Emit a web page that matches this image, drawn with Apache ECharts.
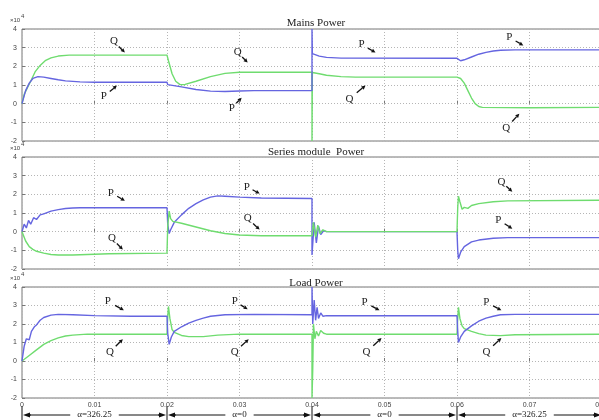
<!DOCTYPE html>
<html>
<head>
<meta charset="utf-8">
<script src="https://cdn.jsdelivr.net/npm/echarts@6/dist/echarts.min.js"></script>
<style>
  html, body { margin: 0; padding: 0; background: #fff; }
  #chart { width: 599px; height: 420px; }
</style>
</head>
<body>
<div id="chart"></div>
<script>
// panel titles
const titles = ['Mains Power', 'Series module  Power', 'Load Power'];

// time (s), value (x10^4)
const mainsP = [[0,0],[0.0005,0.7],[0.001,1.1],[0.0015,1.35],[0.0022,1.45],[0.003,1.42],[0.004,1.35],[0.005,1.28],[0.006,1.22],[0.008,1.17],[0.01,1.15],[0.02,1.15],
  [0.0201,1.02],[0.022,0.9],[0.024,0.76],[0.026,0.67],[0.028,0.65],[0.03,0.68],[0.032,0.7],[0.04,0.7],[0.04,4.0],[0.04005,2.68],[0.041,2.55],[0.042,2.48],[0.044,2.44],
  [0.06,2.43],[0.0605,2.3],[0.061,2.35],[0.062,2.5],[0.063,2.65],[0.064,2.75],[0.065,2.82],[0.066,2.86],[0.068,2.88],[0.08,2.88]];
const mainsQ = [[0,0],[0.0003,0.5],[0.0008,0.9],[0.0012,1.2],[0.0018,1.7],[0.0025,2.05],[0.0032,2.3],[0.004,2.45],[0.005,2.55],[0.0065,2.6],[0.02,2.6],
  [0.0202,2.3],[0.0207,1.6],[0.0212,1.2],[0.0218,1.02],[0.0225,1.03],[0.024,1.2],[0.026,1.45],[0.028,1.62],[0.03,1.68],[0.04,1.68],[0.04,-2],[0.04005,1.67],
  [0.041,1.6],[0.042,1.52],[0.044,1.45],[0.046,1.42],[0.06,1.42],[0.0605,1.35],[0.061,1.1],[0.0615,0.7],[0.062,0.3],[0.0625,0.0],[0.063,-0.15],[0.0635,-0.2],
  [0.07,-0.22],[0.08,-0.2]];

const seriesP = [[0,0],[0.0003,0.4],[0.0006,0.2],[0.0009,0.6],[0.0012,0.4],[0.0016,0.75],[0.002,0.65],[0.0025,0.9],[0.003,0.95],[0.004,1.1],[0.005,1.18],
  [0.006,1.24],[0.007,1.27],[0.008,1.28],[0.02,1.28],[0.0201,0.4],[0.0203,-0.1],[0.0205,0.1],[0.021,0.5],[0.022,0.9],[0.023,1.25],[0.024,1.5],[0.025,1.7],
  [0.026,1.85],[0.027,1.92],[0.028,1.9],[0.03,1.85],[0.033,1.8],[0.04,1.78],[0.04,-1.25],[0.0403,0.5],[0.0406,-0.6],[0.0409,0.3],[0.0412,-0.15],
  [0.0416,0.05],[0.042,0],[0.06,0],[0.0601,-1.0],[0.0602,-1.45],[0.0605,-1.1],[0.061,-0.8],[0.062,-0.55],[0.063,-0.45],[0.065,-0.35],
  [0.067,-0.32],[0.08,-0.32]];
const seriesQ = [[0,0],[0.0005,-0.5],[0.001,-0.8],[0.0015,-0.95],[0.002,-1.05],[0.003,-1.15],[0.004,-1.22],[0.005,-1.25],[0.007,-1.25],[0.009,-1.22],
  [0.012,-1.18],[0.02,-1.15],[0.0201,0.3],[0.0203,1.1],[0.0205,0.7],[0.0208,0.55],[0.021,0.6],[0.022,0.45],[0.024,0.25],[0.026,0.05],[0.028,-0.1],[0.03,-0.18],
  [0.033,-0.22],[0.04,-0.22],[0.0402,0.5],[0.0405,-0.3],[0.0408,0.35],[0.0411,-0.1],[0.0415,0.1],[0.042,0],[0.06,0],[0.0601,1.3],
  [0.0602,1.9],[0.0604,1.6],[0.0607,1.2],[0.061,1.3],[0.0615,1.25],[0.062,1.4],[0.063,1.5],[0.065,1.6],[0.067,1.65],[0.08,1.68]];

const loadP = [[0,0],[0.0003,0.8],[0.0006,1.2],[0.001,1.15],[0.0013,1.6],[0.0017,1.85],[0.002,1.95],[0.0025,2.2],[0.003,2.35],[0.004,2.48],[0.005,2.52],
  [0.007,2.5],[0.01,2.45],[0.015,2.42],[0.02,2.42],[0.0201,1.5],[0.0203,0.9],[0.0206,1.3],[0.021,1.6],[0.022,1.85],[0.023,2.05],[0.024,2.2],[0.025,2.32],
  [0.026,2.42],[0.028,2.5],[0.032,2.52],[0.04,2.5],[0.04,4.0],[0.0401,2.0],[0.0403,3.3],[0.0405,2.2],[0.0407,2.9],[0.0409,2.3],[0.0412,2.6],[0.0415,2.42],
  [0.042,2.45],[0.06,2.45],[0.0601,1.6],[0.0602,1.0],[0.0605,1.3],[0.061,1.6],[0.062,1.9],[0.063,2.15],[0.064,2.32],[0.065,2.42],[0.066,2.5],[0.068,2.52],
  [0.08,2.52]];
const loadQ = [[0,0],[0.0005,0.15],[0.001,0.3],[0.002,0.6],[0.003,0.9],[0.004,1.1],[0.005,1.25],[0.006,1.35],[0.007,1.4],[0.009,1.45],[0.02,1.45],
  [0.0201,2.4],[0.0202,2.95],[0.0204,2.3],[0.0207,1.7],[0.021,1.55],[0.022,1.38],[0.023,1.32],[0.025,1.32],[0.027,1.4],[0.03,1.45],[0.04,1.45],[0.04,-2],
  [0.0401,-0.5],[0.0402,2.0],[0.0404,1.2],[0.0406,1.6],[0.0409,1.35],[0.0412,1.65],[0.0416,1.5],[0.042,1.45],[0.06,1.45],[0.0601,2.3],[0.0602,2.9],
  [0.0604,2.3],[0.0607,1.9],[0.061,1.75],[0.062,1.6],[0.063,1.48],[0.064,1.4],[0.066,1.37],[0.068,1.42],[0.08,1.45]];

// P / Q callouts: panel, label [t, v], arrow tip [t, v]
const callouts = [
  [0, 'Q', [0.01267, 3.33], [0.01419, 2.74]], [0, 'P', [0.0113, 0.38], [0.01309, 0.97]],
  [0, 'Q', [0.02975, 2.74], [0.03113, 2.2]],  [0, 'P', [0.02893, -0.22], [0.0303, 0.32]],
  [0, 'P', [0.04683, 3.17], [0.04876, 2.74]], [0, 'Q', [0.04518, 0.27], [0.04738, 0.97]],
  [0, 'P', [0.06722, 3.55], [0.06915, 3.12]], [0, 'Q', [0.0668, -1.29], [0.0686, -0.54]],
  [1, 'P', [0.01226, 2.09], [0.01419, 1.66]], [1, 'Q', [0.0124, -0.37], [0.01391, -0.96]],
  [1, 'P', [0.031, 2.41], [0.03278, 2.04]],   [1, 'Q', [0.03113, 0.7], [0.03278, 0.11]],
  [1, 'Q', [0.06612, 2.68], [0.06763, 2.14]], [1, 'P', [0.0657, 0.64], [0.06763, 0.16]],
  [2, 'P', [0.01185, 3.23], [0.01405, 2.74]], [2, 'Q', [0.01212, 0.48], [0.01391, 1.18]],
  [2, 'P', [0.02934, 3.23], [0.03113, 2.8]],  [2, 'Q', [0.02934, 0.48], [0.03127, 1.18]],
  [2, 'P', [0.04725, 3.17], [0.04931, 2.74]], [2, 'Q', [0.04752, 0.48], [0.04959, 1.24]],
  [2, 'P', [0.06405, 3.17], [0.06612, 2.74]], [2, 'Q', [0.06405, 0.48], [0.06612, 1.24]]
];

// firing angle intervals under the time axis
const alphaBreaks = [0, 0.02, 0.04, 0.06, 0.08];
const alphaLabels = ['α=326.25', 'α=0', 'α=0', 'α=326.25'];

const colorP = '#6565e0';
const colorQ = '#6fdc6f';
const serif = 'Liberation Serif';

const grids = [
  { left: 22, width: 580, top: 29, height: 112 },
  { left: 22, width: 580, top: 157, height: 112 },
  { left: 22, width: 580, top: 287, height: 111 }
].map(g => Object.assign(g, { show: true, borderColor: '#777', borderWidth: 1, outerBoundsMode: 'none', containLabel: false }));

const xAxes = grids.map((g, i) => ({
  type: 'value', gridIndex: i, min: 0, max: 0.08, interval: 0.01,
  axisLine: { show: false },
  axisTick: { show: true, inside: true, length: 3, lineStyle: { color: '#777' } },
  axisLabel: {
    show: i === 2, fontSize: 7, color: '#444', fontFamily: 'Liberation Sans', margin: 4,
    formatter: v => (v === 0 ? '0' : v.toFixed(2))
  },
  splitLine: { show: true, lineStyle: { color: '#b5b5b5', type: [1, 2], width: 1 } }
}));

const yAxes = grids.map((g, i) => ({
  type: 'value', gridIndex: i, min: -2, max: 4, interval: 1,
  axisLine: { show: false },
  axisTick: { show: true, inside: true, length: 3, lineStyle: { color: '#777' } },
  axisLabel: { fontSize: 7, color: '#444', fontFamily: 'Liberation Sans', margin: 5 },
  splitLine: { show: true, lineStyle: { color: '#b5b5b5', type: [1, 2], width: 1 } }
}));

// drawing order per panel (last one on top)
const panels = [[mainsQ, mainsP], [seriesP, seriesQ], [loadQ, loadP]];
const panelColors = [[colorQ, colorP], [colorP, colorQ], [colorQ, colorP]];
const series = [];
panels.forEach((pair, i) => {
  pair.forEach((d, k) => {
    const c = panelColors[i][k];
    series.push({ type: 'line', xAxisIndex: i, yAxisIndex: i, data: d, showSymbol: false,
      lineStyle: { color: c, width: 1.4 }, itemStyle: { color: c } });
  });
});

const chart = echarts.init(document.getElementById('chart'));
chart.setOption({
  animation: false,
  backgroundColor: '#fff',
  title: titles.map((t, i) => ({
    text: t, left: 311, textAlign: 'center', top: [13, 142, 273][i],
    textStyle: { fontFamily: serif, fontSize: 11, fontWeight: 'normal', color: '#222' }
  })),
  grid: grids,
  xAxis: xAxes,
  yAxis: yAxes,
  series: series
});

// arrow helper: shaft + filled head at (x2, y2)
function arrow(x1, y1, x2, y2, len, half, w) {
  const dx = x2 - x1, dy = y2 - y1, d = Math.hypot(dx, dy);
  const ux = dx / d, uy = dy / d;
  const bx = x2 - ux * len, by = y2 - uy * len;
  return [
    { type: 'line', shape: { x1: x1, y1: y1, x2: bx, y2: by }, style: { stroke: '#111', lineWidth: w }, silent: true },
    { type: 'polygon', shape: { points: [[x2, y2], [bx - uy * half, by + ux * half], [bx + uy * half, by - ux * half]] },
      style: { fill: '#111' }, silent: true }
  ];
}

const graphic = [];

// x10^4 exponent markers
grids.forEach(g => {
  graphic.push({ type: 'text', x: 10, y: g.top - 9, style: { text: '×10', fontSize: 6, fontFamily: 'Liberation Sans', fill: '#444', verticalAlign: 'middle' } });
  graphic.push({ type: 'text', x: 21, y: g.top - 13, style: { text: '4', fontSize: 6, fontFamily: 'Liberation Sans', fill: '#444', verticalAlign: 'middle' } });
});

callouts.forEach(([gi, txt, lab, tip]) => {
  const a = chart.convertToPixel({ gridIndex: gi }, lab);
  const b = chart.convertToPixel({ gridIndex: gi }, tip);
  graphic.push({ type: 'text', x: a[0], y: a[1], style: { text: txt, fontFamily: serif, fontSize: 11, fill: '#222', align: 'center', verticalAlign: 'middle' } });
  const sx = a[0] + (b[0] - a[0]) * 0.45, sy = a[1] + (b[1] - a[1]) * 0.45;
  graphic.push(...arrow(sx, sy, b[0], b[1], 4, 2, 1.3));
});

// alpha interval arrows
const lineY = 415;
const bx = alphaBreaks.map(t => chart.convertToPixel({ gridIndex: 2 }, [t, 0])[0]);
bx.forEach((x, i) => {
  if (i < bx.length - 1) {
    graphic.push({ type: 'line', shape: { x1: x, y1: 406, x2: x, y2: 420 }, style: { stroke: '#111', lineWidth: 1 }, silent: true });
  }
});
alphaLabels.forEach((lab, i) => {
  const x1 = bx[i] + 1, x2 = bx[i + 1] - 1, cx = (bx[i] + bx[i + 1]) / 2;
  graphic.push({ type: 'line', shape: { x1: x1 + 6, y1: lineY, x2: x2 - 6, y2: lineY }, style: { stroke: '#111', lineWidth: 1 }, silent: true });
  graphic.push(...arrow(x1 + 8, lineY, x1, lineY, 7, 2.5, 1));
  graphic.push(...arrow(x2 - 8, lineY, x2, lineY, 7, 2.5, 1));
  graphic.push({ type: 'text', x: cx, y: lineY, style: { text: lab, fontFamily: serif, fontSize: 9, fill: '#222', align: 'center', verticalAlign: 'middle', backgroundColor: '#fff', padding: [0, 7] } });
});

chart.setOption({ graphic: graphic });
</script>
</body>
</html>
